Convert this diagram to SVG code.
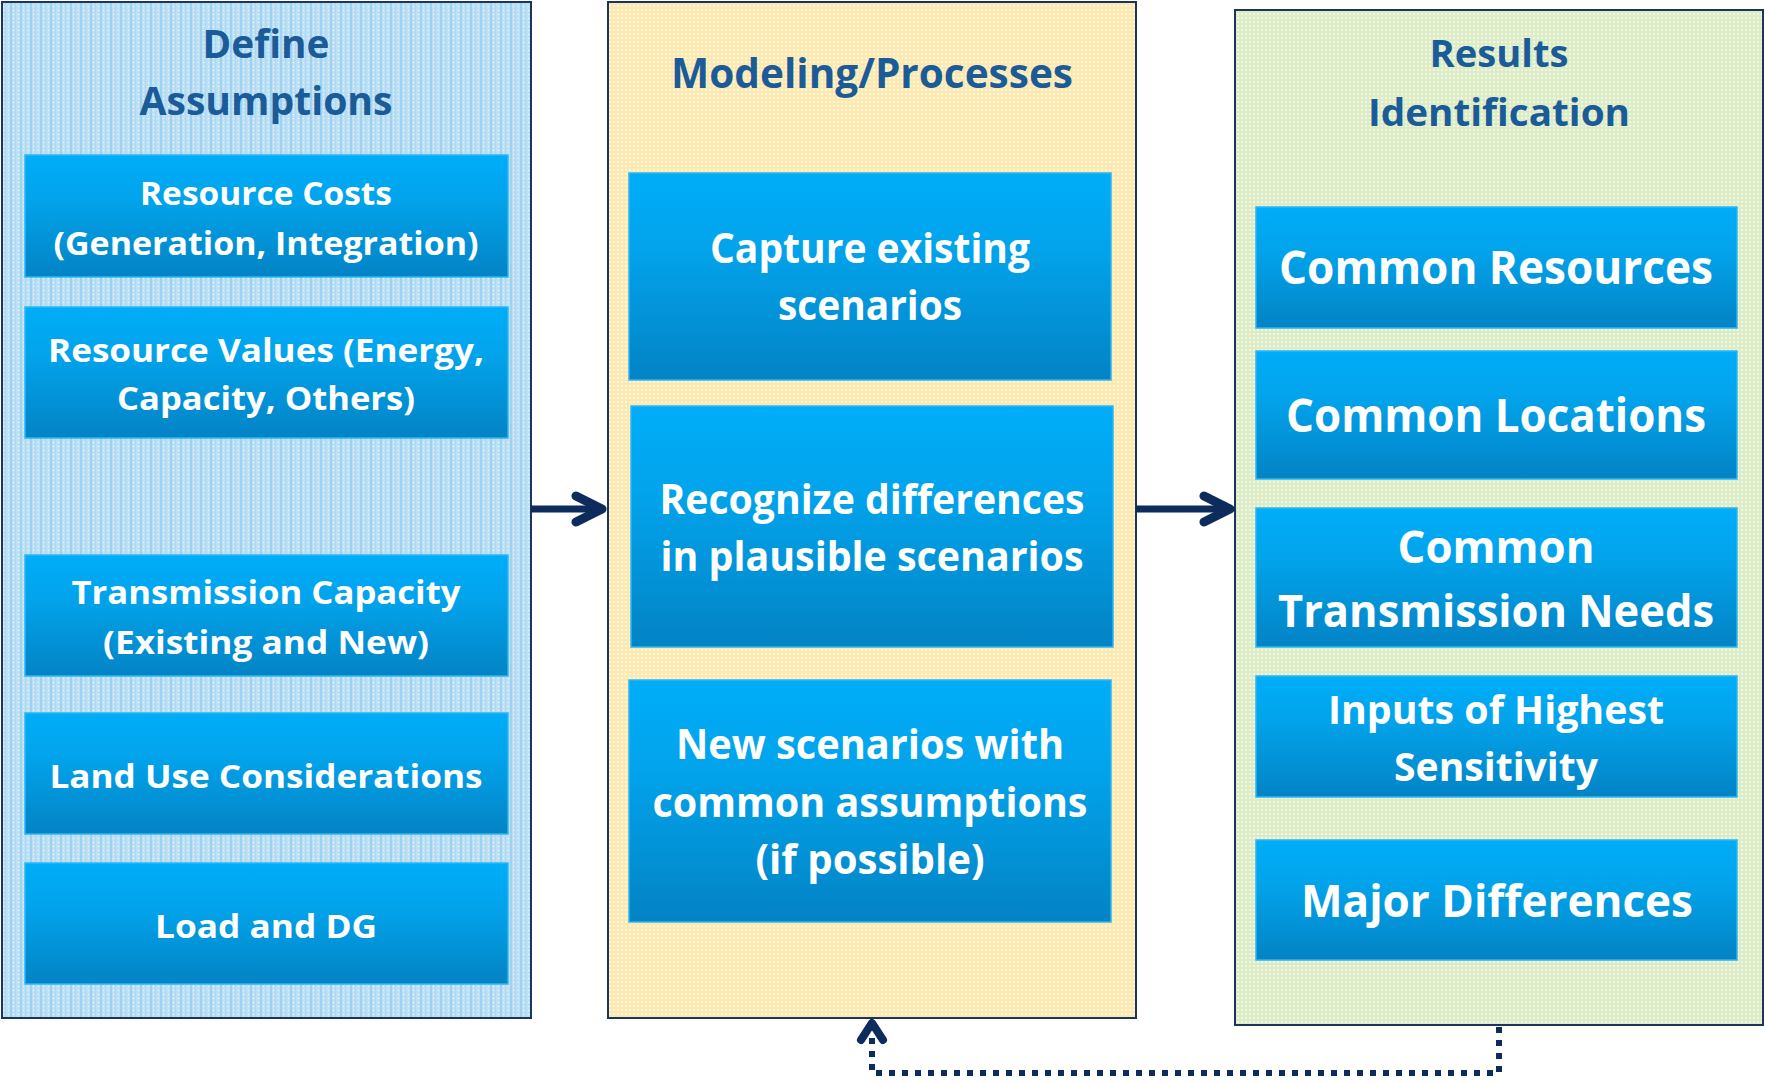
<svg xmlns="http://www.w3.org/2000/svg" width="1765" height="1083" viewBox="0 0 1765 1083">
<defs>
  <linearGradient id="boxGrad" x1="0" y1="0" x2="0" y2="1">
    <stop offset="0" stop-color="#00adf8"/>
    <stop offset="0.35" stop-color="#02a4ec"/>
    <stop offset="1" stop-color="#0383c5"/>
  </linearGradient>
  <pattern id="pBlue" width="10" height="4" patternUnits="userSpaceOnUse">
    <rect width="10" height="4" fill="#bde0f5"/>
    <rect x="0" y="0" width="2" height="4" fill="#9fd2f0"/>
    <rect x="5" y="0" width="1" height="4" fill="#aed9f2"/>
    <rect x="3" y="2" width="1" height="1" fill="#ffffff" opacity="0.8"/>
    <rect x="8" y="2" width="1" height="1" fill="#ffffff" opacity="0.8"/>
  </pattern>
  <pattern id="pYellow" width="4" height="4" patternUnits="userSpaceOnUse">
    <rect width="4" height="4" fill="#fde9b0"/>
    <rect x="1" y="1" width="2" height="2" fill="#fff6dc"/>
  </pattern>
  <pattern id="pGreen" width="4" height="4" patternUnits="userSpaceOnUse">
    <rect width="4" height="4" fill="#dcedc6"/>
    <rect x="1" y="1" width="2" height="2" fill="#f0f7e6"/>
  </pattern>
  <style>
    .panel { stroke: #1c355e; stroke-width: 2; }
    .box { fill: url(#boxGrad); stroke: #2ab7f5; stroke-width: 1.5; }
    .t { font-family: "Open Sans", "Liberation Sans", sans-serif; font-weight: bold; fill: #ffffff; text-anchor: middle; }
    .title { font-family: "Open Sans", "Liberation Sans", sans-serif; font-weight: bold; fill: #1a5b98; text-anchor: middle; }
    .conn { stroke: #0d2b5b; fill: none; }
  </style>
</defs>
<rect width="1765" height="1083" fill="#ffffff"/>

<g id="panel-define">
  <rect class="panel" x="2" y="2" width="529" height="1016" fill="url(#pBlue)"/>
  <text class="title" x="266" y="58" font-size="39" textLength="127" lengthAdjust="spacingAndGlyphs">Define</text>
  <text class="title" x="266" y="115" font-size="39" textLength="253" lengthAdjust="spacingAndGlyphs">Assumptions</text>
</g>
<g id="node-resource-costs">
  <rect class="box" x="25" y="155" width="483" height="122"/>
  <text class="t" x="266" y="205" font-size="32" textLength="252" lengthAdjust="spacingAndGlyphs">Resource Costs</text>
  <text class="t" x="266" y="255" font-size="32" textLength="425" lengthAdjust="spacingAndGlyphs">(Generation, Integration)</text>
</g>
<g id="node-resource-values">
  <rect class="box" x="25" y="307" width="483" height="131"/>
  <text class="t" x="266" y="362" font-size="32" textLength="436" lengthAdjust="spacingAndGlyphs">Resource Values (Energy,</text>
  <text class="t" x="266" y="410" font-size="32" textLength="298" lengthAdjust="spacingAndGlyphs">Capacity, Others)</text>
</g>
<g id="node-transmission-capacity">
  <rect class="box" x="25" y="555" width="483" height="121"/>
  <text class="t" x="266" y="604" font-size="32" textLength="389" lengthAdjust="spacingAndGlyphs">Transmission Capacity</text>
  <text class="t" x="266" y="654" font-size="32" textLength="326" lengthAdjust="spacingAndGlyphs">(Existing and New)</text>
</g>
<g id="node-land-use">
  <rect class="box" x="25" y="713" width="483" height="121"/>
  <text class="t" x="266" y="788" font-size="32" textLength="433" lengthAdjust="spacingAndGlyphs">Land Use Considerations</text>
</g>
<g id="node-load-dg">
  <rect class="box" x="25" y="863" width="483" height="121"/>
  <text class="t" x="266" y="938" font-size="32" textLength="222" lengthAdjust="spacingAndGlyphs">Load and DG</text>
</g>

<g id="panel-modeling">
  <rect class="panel" x="608" y="2" width="528" height="1016" fill="url(#pYellow)"/>
  <text class="title" x="872" y="88" font-size="41" textLength="402" lengthAdjust="spacingAndGlyphs">Modeling/Processes</text>
</g>
<g id="node-capture">
  <rect class="box" x="629" y="173" width="482" height="207"/>
  <text class="t" x="870" y="263" font-size="41" textLength="320" lengthAdjust="spacingAndGlyphs">Capture existing</text>
  <text class="t" x="870" y="320" font-size="41" textLength="184" lengthAdjust="spacingAndGlyphs">scenarios</text>
</g>
<g id="node-recognize">
  <rect class="box" x="631" y="406" width="482" height="241"/>
  <text class="t" x="872" y="514" font-size="41" textLength="425" lengthAdjust="spacingAndGlyphs">Recognize differences</text>
  <text class="t" x="872" y="571" font-size="41" textLength="423" lengthAdjust="spacingAndGlyphs">in plausible scenarios</text>
</g>
<g id="node-new-scenarios">
  <rect class="box" x="629" y="680" width="482" height="242"/>
  <text class="t" x="870" y="759" font-size="41" textLength="388" lengthAdjust="spacingAndGlyphs">New scenarios with</text>
  <text class="t" x="870" y="817" font-size="41" textLength="435" lengthAdjust="spacingAndGlyphs">common assumptions</text>
  <text class="t" x="870" y="874" font-size="41" textLength="229" lengthAdjust="spacingAndGlyphs">(if possible)</text>
</g>

<g id="panel-results">
  <rect class="panel" x="1235" y="10" width="528" height="1015" fill="url(#pGreen)"/>
  <text class="title" x="1499" y="67" font-size="37" textLength="139" lengthAdjust="spacingAndGlyphs">Results</text>
  <text class="title" x="1499" y="126" font-size="37" textLength="262" lengthAdjust="spacingAndGlyphs">Identification</text>
</g>
<g id="node-common-resources">
  <rect class="box" x="1256" y="207" width="481" height="121"/>
  <text class="t" x="1496" y="284" font-size="46" textLength="434" lengthAdjust="spacingAndGlyphs">Common Resources</text>
</g>
<g id="node-common-locations">
  <rect class="box" x="1256" y="351" width="481" height="128"/>
  <text class="t" x="1496" y="432" font-size="46" textLength="420" lengthAdjust="spacingAndGlyphs">Common Locations</text>
</g>
<g id="node-common-transmission">
  <rect class="box" x="1256" y="508" width="481" height="139"/>
  <text class="t" x="1496" y="563" font-size="44" textLength="197" lengthAdjust="spacingAndGlyphs">Common</text>
  <text class="t" x="1496" y="627" font-size="44" textLength="436" lengthAdjust="spacingAndGlyphs">Transmission Needs</text>
</g>
<g id="node-inputs-sensitivity">
  <rect class="box" x="1256" y="676" width="481" height="121"/>
  <text class="t" x="1496" y="724" font-size="40" textLength="336" lengthAdjust="spacingAndGlyphs">Inputs of Highest</text>
  <text class="t" x="1496" y="781" font-size="40" textLength="204" lengthAdjust="spacingAndGlyphs">Sensitivity</text>
</g>
<g id="node-major-differences">
  <rect class="box" x="1256" y="840" width="481" height="120"/>
  <text class="t" x="1497" y="917" font-size="45" textLength="392" lengthAdjust="spacingAndGlyphs">Major Differences</text>
</g>

<g id="connectors">
  <line class="conn" x1="531" y1="509" x2="600" y2="509" stroke-width="7"/>
  <polyline class="conn" points="576,496 602,509 576,522" stroke-width="9" stroke-linecap="round" stroke-linejoin="round"/>
  <line class="conn" x1="1136" y1="509" x2="1226" y2="509" stroke-width="7"/>
  <polyline class="conn" points="1204,496 1230,509 1204,522" stroke-width="9" stroke-linecap="round" stroke-linejoin="round"/>
  <path class="conn" d="M1499,1027 V1073 H872 V1032" stroke-width="6" stroke-dasharray="6 7"/>
  <polyline class="conn" points="861,1040 872,1023 883,1040" stroke-width="8" stroke-linecap="round" stroke-linejoin="round"/>
</g>
</svg>
